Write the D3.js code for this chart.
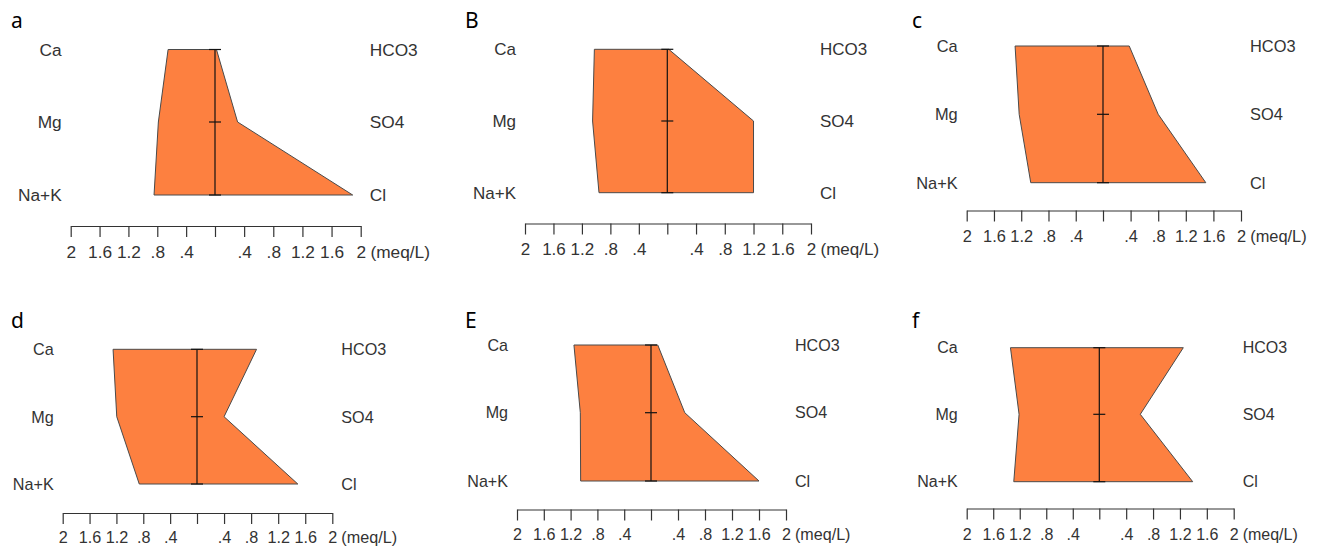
<!DOCTYPE html>
<html>
<head>
<meta charset="utf-8">
<script src="https://cdn.jsdelivr.net/npm/d3@7"></script>
<style>
  body { margin: 0; background: #fff; }
  svg { display: block; }
</style>
</head>
<body>
<div id="chart"></div>
<script>
(function(){
    const width = 1323;
    const height = 546;

    // Data
    const panelNames = ["a", "B", "c", "d", "E", "f"];
    const cations = ["Ca", "Mg", "Na+K"];
    const anions = ["HCO3", "SO4", "Cl"];
    const tickValues = [-2, -1.6, -1.2, -0.8, -0.4, 0, 0.4, 0.8, 1.2, 1.6, 2];
    // meq/L, order Ca, Mg, Na+K
    const cationValues = [
        [0.65, 0.785, 0.845],
        [1.025, 1.05, 0.96],
        [1.29, 1.23, 1.06],
        [1.25, 1.195, 0.86],
        [1.15, 1.055, 1.05],
        [1.34, 1.21, 1.29]
    ];
    // meq/L, order HCO3, SO4, Cl
    const anionValues = [
        [0.02, 0.31, 1.89],
        [0.02, 1.2, 1.2],
        [0.38, 0.80, 1.49],
        [0.88, 0.40, 1.49],
        [0.10, 0.50, 1.60],
        [1.25, 0.61, 1.39]
    ];

    // Layout of each panel (pixel positions)
    const layout = [
        { xr: [70.7, 215, 360.7],   rows: [49.5, 122, 195],     axisY: 226,   labY: 258, lx: 11, ly: 28, fs: 17.3 },
        { xr: [525, 667.3, 811],    rows: [49.3, 121, 192.7],   axisY: 223.5, labY: 255, lx: 465, ly: 28, fs: 17 },
        { xr: [966.7, 1103, 1241],  rows: [46, 114.3, 182.7],   axisY: 210.5, labY: 242, lx: 912, ly: 28, fs: 16.4 },
        { xr: [62.7, 197, 332.3],   rows: [349.3, 416.7, 484],  axisY: 513,   labY: 543, lx: 11, ly: 328, fs: 16.2 },
        { xr: [517, 651, 786],      rows: [345, 412.7, 481],    axisY: 509.5, labY: 540, lx: 465, ly: 328, fs: 16.1 },
        { xr: [966.7, 1099.3, 1233.7], rows: [347.7, 414.3, 481.7], axisY: 508.5, labY: 540, lx: 912, ly: 328, fs: 16 }
    ];

    const svg = d3.select("#chart")
        .append("svg")
        .attr("width", width)
        .attr("height", height)
        .style("background", "#fff");

    const fmt = v => {
        if (v === 0) return "";
        let s = String(Math.abs(v));
        if (s.startsWith("0.")) s = s.slice(1);
        return s;
    };

    panelNames.forEach((name, i) => {
        const L = layout[i];
        const g = svg.append("g");

        const x = d3.scaleLinear().domain([-2, 0, 2]).range(L.xr);
        const y = d3.scaleOrdinal().domain([0, 1, 2]).range(L.rows);

        // Polygon: cations on the left (negative), anions on the right
        const pts = [];
        cationValues[i].forEach((v, k) => pts.push([x(-v), y(k)]));
        for (let k = 2; k >= 0; k--) pts.push([x(anionValues[i][k]), y(k)]);

        g.append("path")
            .attr("d", d3.line()(pts) + "Z")
            .style("fill", "#fd8040")
            .style("stroke", "#4a4a4a")
            .style("stroke-width", 1);

        // Centre line with small row ticks
        g.append("line")
            .attr("x1", x(0)).attr("x2", x(0))
            .attr("y1", y(0)).attr("y2", y(2))
            .style("stroke", "#111")
            .style("stroke-width", 1.2);

        [0, 1, 2].forEach(k => {
            g.append("line")
                .attr("x1", x(0) - 6).attr("x2", x(0) + 6)
                .attr("y1", y(k)).attr("y2", y(k))
                .style("stroke", "#111")
                .style("stroke-width", 1.2);
        });

        // Row labels
        g.selectAll(".cat")
            .data(cations)
            .enter()
            .append("text")
            .attr("x", L.xr[0] - 9)
            .attr("y", (d, k) => y(k))
            .attr("dy", "0.36em")
            .attr("text-anchor", "end")
            .style("font-family", "'Liberation Sans', Arial, sans-serif")
            .style("font-size", L.fs + "px")
            .style("fill", "#333")
            .text(d => d);

        g.selectAll(".an")
            .data(anions)
            .enter()
            .append("text")
            .attr("x", L.xr[2] + 9)
            .attr("y", (d, k) => y(k))
            .attr("dy", "0.36em")
            .attr("text-anchor", "start")
            .style("font-family", "'Liberation Sans', Arial, sans-serif")
            .style("font-size", L.fs + "px")
            .style("fill", "#333")
            .text(d => d);

        // Bottom axis
        const axis = d3.axisBottom(x)
            .tickValues(tickValues)
            .tickFormat(fmt)
            .tickSize(11)
            .tickSizeOuter(0);

        const ax = g.append("g")
            .attr("transform", `translate(0,${L.axisY})`)
            .call(axis);

        ax.select(".domain").style("stroke", "#333").style("stroke-width", 1.2);
        ax.selectAll(".tick line").style("stroke", "#333").style("stroke-width", 1.2);
        ax.selectAll(".tick text")
            .attr("y", L.labY - L.axisY)
            .attr("dy", null)
            .style("font-family", "'Liberation Sans', Arial, sans-serif")
            .style("font-size", L.fs + "px")
            .style("fill", "#333");

        // Unit after the last tick label
        g.append("text")
            .attr("x", x(2) + L.fs * 0.56)
            .attr("y", L.labY)
            .attr("text-anchor", "start")
            .style("font-family", "'Liberation Sans', Arial, sans-serif")
            .style("font-size", L.fs + "px")
            .style("fill", "#333")
            .text("(meq/L)");

        // Panel letter
        g.append("text")
            .attr("x", L.lx)
            .attr("y", L.ly)
            .style("font-family", "'Noto Sans', sans-serif")
            .style("font-size", "21px")
            .style("fill", "#000")
            .text(name);
    });
})();
</script>
</body>
</html>
